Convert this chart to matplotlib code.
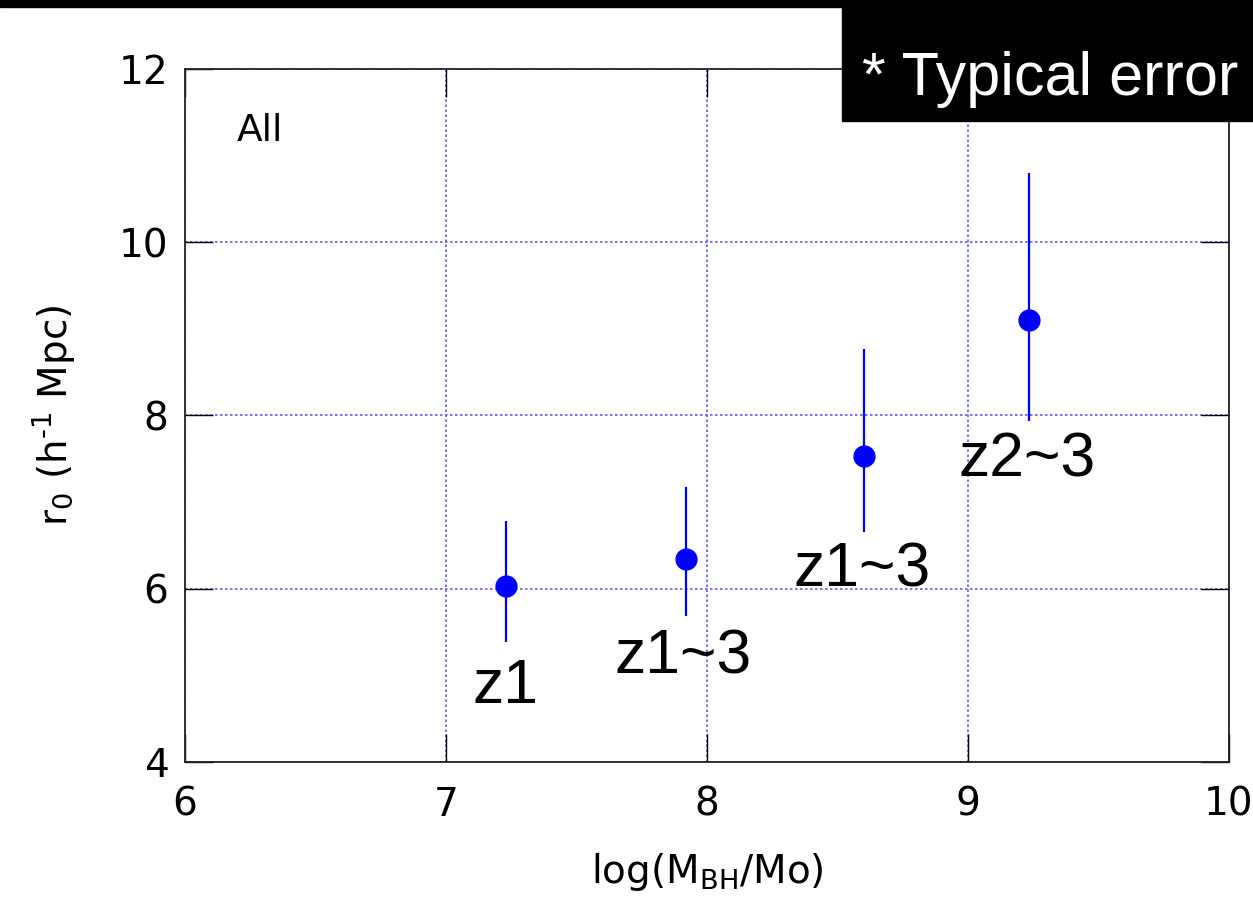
import numpy as np
import matplotlib
matplotlib.use('Agg')
import matplotlib.pyplot as plt
from matplotlib.patches import Rectangle

plt.rcParams['font.family'] = ['DejaVu Sans']
plt.rcParams['mathtext.default'] = 'regular'

# log(M_BH/Mo) and r0 with upper/lower error bar ends
mbh = [7.23, 7.92, 8.60, 9.235]
r0 = [6.03, 6.34, 7.53, 9.10]
r0_hi = [6.78, 7.18, 8.77, 10.80]
r0_lo = [5.39, 5.69, 6.66, 7.94]

z_labels = ['z1', 'z1~3', 'z1~3', 'z2~3']
z_lab_x = [7.227, 7.91, 8.594, 9.228]
z_lab_y = [4.87, 5.21, 6.22, 7.49]

xticks = [6, 7, 8, 9, 10]
yticks = [4, 6, 8, 10, 12]

fig = plt.figure(figsize=(12.53, 8.97), dpi=100)
ax = fig.add_axes([185 / 1253, 1 - 762 / 897, (1229 - 185) / 1253, (762 - 69) / 897])

r0 = np.array(r0)
yerr = [r0 - np.array(r0_lo), np.array(r0_hi) - r0]
ax.errorbar(mbh, r0, yerr=yerr, fmt='o', color='#0000ff', ms=15, elinewidth=1.6,
            capsize=0, zorder=3)

for lab, x, y in zip(z_labels, z_lab_x, z_lab_y):
    ax.text(x, y, lab, fontsize=45, family='Liberation Sans', ha='center', va='center')

ax.text(6.2, 11.28, 'All', fontsize=27, ha='left', va='center')

ax.set_xlim(6, 10)
ax.set_ylim(4, 12)
ax.set_xticks(xticks)
ax.set_yticks(yticks)
ax.grid(True, color='#5a5aff', linestyle=(0, (1.5, 1.5)), linewidth=1.2)
ax.tick_params(direction='in', length=20, width=1, top=True, right=True,
               labelsize=28)
ax.tick_params(axis='x', pad=17)
ax.tick_params(axis='y', pad=12)
for s in ax.spines.values():
    s.set_linewidth(1.3)
    s.set_color('#222222')

ax.set_xlabel('log(M$_{BH}$/Mo)', fontsize=28, labelpad=20)
ax.set_ylabel('r$_0$ (h$^{\u20101}$ Mpc)', fontsize=28, labelpad=30)

# black banner strips from the slide
fig.patches.append(Rectangle((0, 1 - 7 / 897), 1, 7 / 897, transform=fig.transFigure,
                             color='black', zorder=10))
fig.patches.append(Rectangle((842 / 1253, 1 - 121 / 897), 1 - 842 / 1253, 121 / 897,
                             transform=fig.transFigure, color='black', zorder=10))
fig.text(862 / 1253, 1 - 95 / 897, '* Typical error', color='white', fontsize=44,
         family='Liberation Sans', ha='left', va='baseline', zorder=11)

fig.savefig('out.png', dpi=100)
